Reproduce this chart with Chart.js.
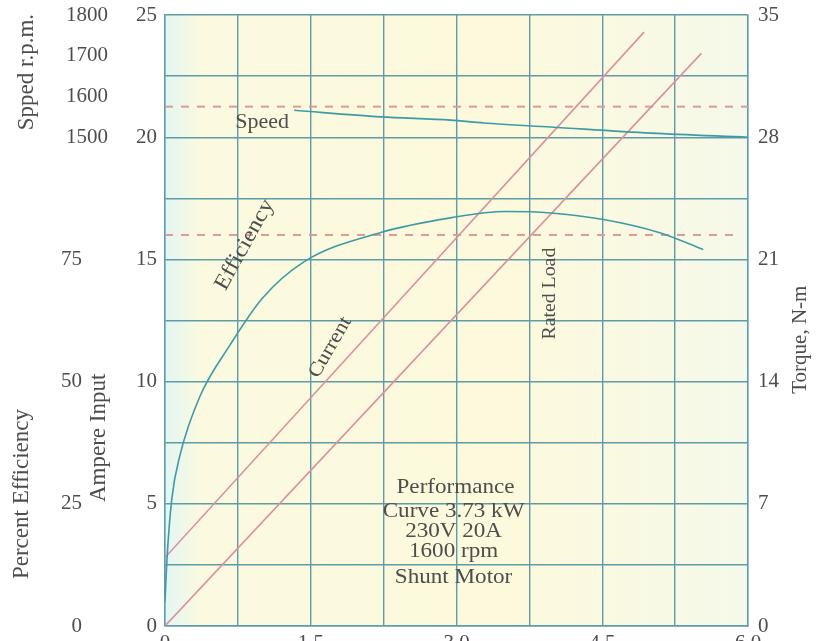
<!DOCTYPE html>
<html>
<head>
<meta charset="utf-8">
<script src="https://cdn.jsdelivr.net/npm/chart.js@4"></script>
<style>
  html, body { margin: 0; padding: 0; background: #ffffff; overflow: hidden; }
  #wrap { width: 820px; height: 641px; overflow: hidden; }
</style>
</head>
<body>
<div id="wrap"><canvas id="motorChart" width="820" height="657"></canvas></div>
<script>
// output power, kW
const effKw = [0, 0.02, 0.07, 0.155, 0.36, 0.67, 1.0, 1.43, 2.22, 2.94, 3.5, 3.97, 4.5, 5.1, 5.54];
const effPct = [5, 13.5, 26, 35, 47, 57.5, 67, 74.5, 80.5, 83.5, 84.8, 84.5, 83.2, 80.4, 77];

const speedKw = [1.33, 2.22, 2.94, 3.28, 3.97, 5.0, 6.0];
const speedRpm = [1566, 1550, 1542, 1535, 1525, 1510, 1500];

const currentKw = [0, 4.93];
const currentAmp = [2.8, 24.3];

const torqueKw = [0, 5.52];
const torqueNm = [0, 32.8];

// dashed reference lines
const speedRefKw = [0, 6.0];
const speedRef = [1575, 1575];
const effRefKw = [0, 5.9];
const effRef = [80, 80];

// tick labels
const kwLabels = ["0", "1.5", "3.0", "4.5", "6.0"];
const speedLabels = [1500, 1600, 1700, 1800];
const effLabels = [0, 25, 50, 75];

const teal = "#3f9aa8";
const pink = "#d990a0";
const gridCol = "#5f9ca8";
const txtCol = "#4d4d4d";
const serif = "'Liberation Serif', 'DejaVu Serif', serif";

function pts(xs, ys) {
  return xs.map((x, i) => ({ x: x, y: ys[i] }));
}

// no extra room above/below the y axes
function noPad(w) {
  return (s) => { s.width = w; s.paddingTop = 0; s.paddingBottom = 0; };
}

// plot background + notes on the graph
const paperPlugin = {
  id: "paper",
  beforeDraw(chart) {
    const { ctx, chartArea: a } = chart;
    ctx.save();
    const g = ctx.createLinearGradient(a.left, 0, a.right, 0);
    g.addColorStop(0, "#e3f6f4");
    g.addColorStop(0.06, "#fbf9df");
    g.addColorStop(0.6, "#fcf9dc");
    g.addColorStop(1, "#f6f9ea");
    ctx.fillStyle = g;
    ctx.fillRect(a.left, a.top, a.right - a.left, a.bottom - a.top);
    ctx.restore();
  },
  afterDatasetsDraw(chart) {
    const { ctx, scales } = chart;
    const x = scales.x, yA = scales.yA;
    const put = (text, kw, amp, rot, size) => {
      ctx.save();
      ctx.translate(x.getPixelForValue(kw), yA.getPixelForValue(amp));
      ctx.rotate((rot || 0) * Math.PI / 180);
      ctx.scale(1.1, 1);
      ctx.font = (size || 21) + "px " + serif;
      ctx.fillStyle = txtCol;
      ctx.textAlign = "center";
      ctx.textBaseline = "middle";
      ctx.fillText(text, 0, 0);
      ctx.restore();
    };
    put("Speed", 1.0, 20.6, 0, 20);
    put("Efficiency", 0.82, 15.6, -61, 22);
    put("Current", 1.7, 11.4, -60, 20);
    put("Rated Load", 3.97, 13.6, -90, 18);
    put("Performance", 2.99, 5.65);
    put("Curve 3.73 kW", 2.97, 4.68);
    put("230V 20A", 2.97, 3.86);
    put("1600 rpm", 2.97, 3.05);
    put("Shunt Motor", 2.97, 2.0);

    // axis titles
    const a = chart.chartArea;
    const side = (text, px, py, size) => {
      ctx.save();
      ctx.translate(px, py);
      ctx.rotate(-Math.PI / 2);
      ctx.font = (size || 23) + "px " + serif;
      ctx.fillStyle = txtCol;
      ctx.textAlign = "center";
      ctx.textBaseline = "middle";
      ctx.fillText(text, 0, 0);
      ctx.restore();
    };
    side("Spped r.p.m.", 27, scales.ySpeed.getPixelForValue(1660));
    side("Percent Efficiency", 22, scales.yEff.getPixelForValue(27));
    side("Ampere Input", 99, yA.getPixelForValue(7.7));
    side("Torque, N-m", a.right + 52, scales.yT.getPixelForValue(16.4), 21);
  }
};

const tickFont = { family: serif, size: 21 };

new Chart(document.getElementById("motorChart"), {
  type: "line",
  data: {
    datasets: [
      { label: "Efficiency", data: pts(effKw, effPct), yAxisID: "yEff",
        borderColor: teal, borderWidth: 1.6, pointRadius: 0, tension: 0.4,
        cubicInterpolationMode: "monotone" },
      { label: "Speed", data: pts(speedKw, speedRpm), yAxisID: "ySpeed",
        borderColor: teal, borderWidth: 1.6, pointRadius: 0, tension: 0.4,
        cubicInterpolationMode: "monotone" },
      { label: "Current", data: pts(currentKw, currentAmp), yAxisID: "yA",
        borderColor: pink, borderWidth: 1.6, pointRadius: 0 },
      { label: "Torque", data: pts(torqueKw, torqueNm), yAxisID: "yT",
        borderColor: pink, borderWidth: 1.6, pointRadius: 0 },
      { label: "Rated speed", data: pts(speedRefKw, speedRef), yAxisID: "ySpeed",
        borderColor: "#dc9c94", borderWidth: 2, borderDash: [8, 8], pointRadius: 0 },
      { label: "Eff. ref", data: pts(effRefKw, effRef), yAxisID: "yEff",
        borderColor: "#dc9c94", borderWidth: 2, borderDash: [8, 8], pointRadius: 0 }
    ]
  },
  options: {
    responsive: false,
    animation: false,
    layout: { padding: { top: 15, left: 0, right: 0, bottom: 0 } },
    plugins: { legend: { display: false }, tooltip: { enabled: false } },
    scales: {
      x: {
        type: "linear", min: 0, max: 6,
        grid: { color: gridCol, lineWidth: 1.4, drawTicks: false },
        border: { color: gridCol, width: 1.4 },
        ticks: {
          stepSize: 0.75, autoSkip: false, maxRotation: 0, padding: 5,
          color: txtCol, font: tickFont,
          callback: (v) => {
            const i = Math.round(v / 1.5);
            return Math.abs(v - i * 1.5) < 1e-6 ? kwLabels[i] : "";
          }
        },
        afterFit: (s) => { s.height = 31; }
      },
      yA: {
        type: "linear", position: "left", weight: 0, min: 0, max: 25,
        grid: { color: gridCol, lineWidth: 1.4, drawTicks: false },
        border: { color: gridCol, width: 1.4 },
        ticks: {
          stepSize: 2.5, autoSkip: false, padding: 8, color: txtCol, font: tickFont,
          callback: (v) => (v % 5 === 0 ? v : "")
        },
        afterFit: noPad(55)
      },
      yEff: {
        type: "linear", position: "left", weight: 2, min: 0, max: 125,
        grid: { display: false, drawTicks: false }, border: { display: false },
        ticks: {
          stepSize: 25, autoSkip: false, padding: 28, color: txtCol, font: tickFont,
          callback: (v) => (effLabels.includes(v) ? v : "")
        },
        afterFit: noPad(110)
      },
      ySpeed: {
        type: "linear", position: "left", weight: 3, min: 300, max: 1800,
        grid: { display: false, drawTicks: false }, border: { display: false },
        ticks: {
          stepSize: 100, autoSkip: false, mirror: true, crossAlign: "far", padding: 66,
          color: txtCol, font: tickFont,
          callback: (v) => (speedLabels.includes(v) ? v : "")
        },
        afterFit: noPad(0)
      },
      yT: {
        type: "linear", position: "right", min: 0, max: 35,
        grid: { display: false, drawTicks: false },
        border: { color: gridCol, width: 1.4 },
        ticks: { stepSize: 7, autoSkip: false, padding: 10, color: txtCol, font: tickFont },
        afterFit: noPad(72)
      }
    }
  },
  plugins: [paperPlugin]
});
</script>
</body>
</html>
